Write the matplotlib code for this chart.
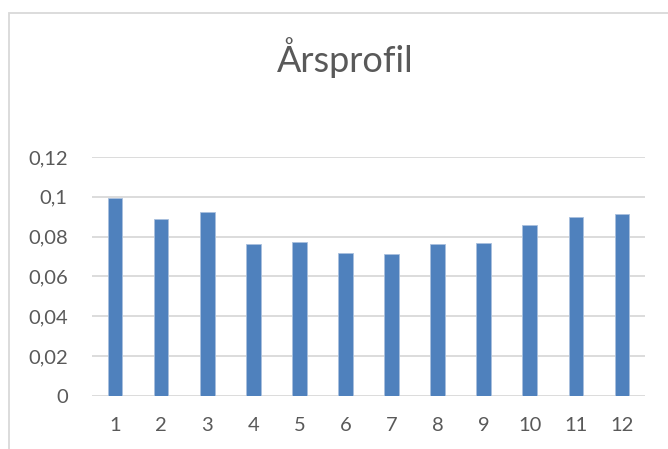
import matplotlib
matplotlib.use("Agg")
import matplotlib.pyplot as plt
from matplotlib.patches import Rectangle
from matplotlib.ticker import FixedLocator

months = ["1", "2", "3", "4", "5", "6", "7", "8", "9", "10", "11", "12"]
shares = [0.0995, 0.0890, 0.0921, 0.0763, 0.0775, 0.0718,
          0.0710, 0.0765, 0.0768, 0.0857, 0.0900, 0.0915]
y_ticks = [0, 0.02, 0.04, 0.06, 0.08, 0.1, 0.12]
y_tick_labels = ["0", "0,02", "0,04", "0,06", "0,08", "0,1", "0,12"]
title = "Årsprofil"

W, H = 668, 449
fig = plt.figure(figsize=(W / 100, H / 100), dpi=100)
fig.patch.set_facecolor("white")

# chart frame (open towards right and bottom edges)
fig.patches.append(Rectangle((9 / W, -0.05), 1.2, (H - 13) / H + 0.05,
                             transform=fig.transFigure, fill=False,
                             edgecolor="#d9d9d9", linewidth=1.3))

ax = fig.add_axes([92 / W, (H - 395.7) / H, (645 - 92) / W, (395.7 - 157) / H])
x = range(len(months))
ax.bar(x, shares, width=0.32, color="#4f81bd", edgecolor="#a9c0dd",
       linewidth=0.6, zorder=3)

ax.set_xlim(-0.5, len(months) - 0.5)
ax.set_ylim(0, 0.12)
ax.yaxis.set_major_locator(FixedLocator(y_ticks))
ax.set_yticklabels(y_tick_labels)
ax.set_xticks(list(x))
ax.set_xticklabels(months)

ax.grid(axis="y", color="#d9d9d9", linewidth=1.3, zorder=0)
for s in ["top", "right", "left", "bottom"]:
    ax.spines[s].set_visible(False)
ax.tick_params(axis="both", length=0, labelsize=14.5, colors="#595959",
               labelfontfamily="Lato")
ax.tick_params(axis="y", pad=17.5)
ax.tick_params(axis="x", pad=15)

fig.text(345 / W, 1 - 58 / H, title, ha="center", va="center",
         fontsize=26, color="#595959", family="Lato", fontweight="normal")

fig.savefig("out.png", dpi=100)
